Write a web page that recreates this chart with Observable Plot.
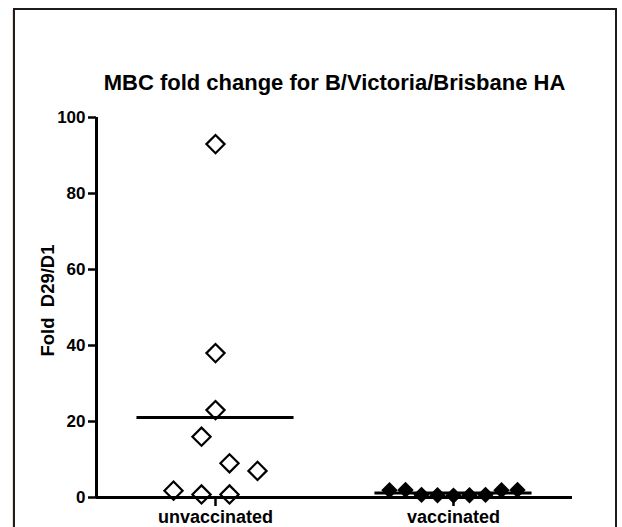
<!DOCTYPE html>
<html>
<head>
<meta charset="utf-8">
<script src="https://cdn.jsdelivr.net/npm/d3@7"></script>
<script src="https://cdn.jsdelivr.net/npm/@observablehq/plot@0.6"></script>
<style>
  html, body { margin: 0; padding: 0; background: #fff; }
  body { width: 622px; height: 527px; position: relative; overflow: hidden; font-family: "Liberation Sans", Arial, Helvetica, sans-serif; }
  #frame { position: absolute; left: 13px; top: 8px; width: 604px; height: 560px; border: 2px solid #1c1c1c; box-sizing: border-box; }
  #tint { position: absolute; left: 12px; top: 10px; width: 1px; height: 560px; background: #f6d9c8; }
  #title { position: absolute; left: 0; width: 669px; top: 70px; text-align: center; font-size: 22px; font-weight: bold; color: #000; white-space: nowrap; }
  #chart { position: absolute; left: 0; top: 0; }
  #chart svg text { white-space: pre; }
</style>
</head>
<body>
<div id="tint"></div>
<div id="frame"></div>
<div id="title">MBC fold change for B/Victoria/Brisbane HA</div>
<div id="chart"></div>
<script>
// ---- data ----
const groups = ["unvaccinated", "vaccinated"];
const unvaccinated = [93, 38, 23, 16, 9, 7, 1.8, 0.8, 0.8];
const unvaccinatedLane = [0, 0, 0, -1, 1, 3, -3, -1, 1];
const vaccinated = [1.9, 2.0, 0.7, 0.6, 0.5, 0.6, 0.7, 1.9, 2.0];
const vaccinatedLane = [-4, -3, -2, -1, 0, 1, 2, 3, 4];
const yTicks = [0, 20, 40, 60, 80, 100];
const yLabel = "Fold  D29/D1";

// ---- layout helpers ----
const laneStep = [14 / 238, 16 / 238]; // horizontal spread of scatter columns (x units)
const meanHalf = 0.33;

const points = [
  ...unvaccinated.map((v, i) => ({g: 0, lane: unvaccinatedLane[i], v})),
  ...vaccinated.map((v, i) => ({g: 1, lane: vaccinatedLane[i], v}))
].map(d => ({...d, x: d.g + d.lane * laneStep[d.g]}));

const means = [unvaccinated, vaccinated].map((arr, g) => ({g, m: d3.mean(arr)}));

const font = "'Liberation Sans', Arial, Helvetica, sans-serif";
const chart = Plot.plot({
  width: 622,
  height: 527,
  marginLeft: 96,
  marginRight: 50,
  marginTop: 117,
  marginBottom: 30,
  style: {background: "transparent", fontFamily: font, color: "#000"},
  x: {type: "linear", domain: [-0.5, 1.5]},
  y: {domain: [0, 100]},
  marks: [
    Plot.axisY({
      ticks: yTicks, tickSize: 8, tickPadding: 3, strokeWidth: 2.5,
      fontSize: 17, fontWeight: "bold", label: null
    }),
    Plot.text([yLabel], {
      frameAnchor: "left", rotate: -90, dx: -48, dy: -7,
      fontSize: 18.5, fontWeight: "bold", fill: "#000", textAnchor: "middle"
    }),
    Plot.axisX({
      ticks: [0, 1], tickFormat: d => groups[d], tickSize: 9, tickPadding: 4, strokeWidth: 2.5,
      fontSize: 18, fontWeight: "bold", label: null
    }),
    Plot.ruleX([-0.5], {stroke: "#000", strokeWidth: 3, y1: 0, y2: 100}),
    Plot.ruleY([0], {stroke: "#000", strokeWidth: 3}),
    Plot.ruleY(means, {y: "m", x1: d => d.g - meanHalf, x2: d => d.g + meanHalf, stroke: "#000", strokeWidth: 3}),
    Plot.dot(points.filter(d => d.g === 0), {x: "x", y: "v", symbol: "diamond2", r: 8.2, stroke: "#000", strokeWidth: 2.2, fill: "none"}),
    Plot.dot(points.filter(d => d.g === 1), {x: "x", y: "v", symbol: "diamond2", r: 7.4, fill: "#000", stroke: "none"})
  ]
});
document.getElementById("chart").appendChild(chart);
</script>
</body>
</html>
